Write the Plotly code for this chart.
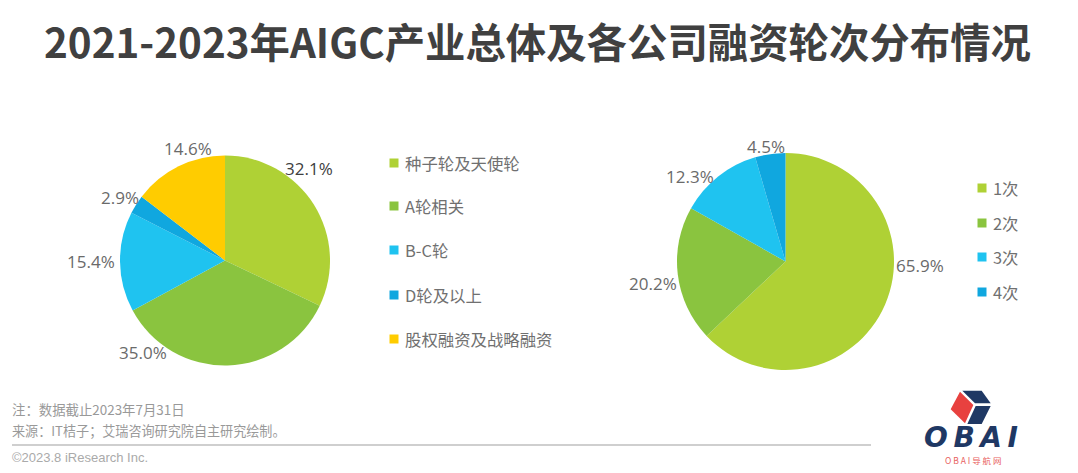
import plotly.graph_objects as go

W, H = 1078, 473

# --- data ---
title = "2021-2023年AIGC产业总体及各公司融资轮次分布情况"
left_categories = ["种子轮及天使轮", "A轮相关", "B-C轮", "D轮及以上", "股权融资及战略融资"]
left_values = [32.1, 35.0, 15.4, 2.9, 14.6]
left_colors = ["#AFD135", "#8AC43F", "#1FC3F0", "#10A7DF", "#FFCC00"]
right_categories = ["1次", "2次", "3次", "4次"]
right_values = [62.9, 20.2, 12.3, 4.5]      # slice sizes as drawn
right_labels = [65.9, 20.2, 12.3, 4.5]      # values as printed
right_colors = ["#AFD135", "#8AC43F", "#1FC3F0", "#10A7DF"]
notes = ["注：数据截止2023年7月31日", "来源：IT桔子；艾瑞咨询研究院自主研究绘制。"]
copyright_text = "©2023.8 iResearch Inc."

# --- layout helpers (pixel coordinates of the frame) ---
def px(x): return x / W
def py(y): return 1 - y / H

def dom(cx, cy, r):
    return dict(x=[px(cx - r), px(cx + r)], y=[py(cy + r), py(cy - r)])

fig = go.Figure()
fig.add_trace(go.Pie(values=left_values, labels=left_categories, sort=False, direction="clockwise",
                     rotation=0, textinfo="none", showlegend=False,
                     marker=dict(colors=left_colors, line=dict(width=0)), domain=dom(225, 260.5, 105)))
fig.add_trace(go.Pie(values=right_values, labels=right_categories, sort=False, direction="clockwise",
                     rotation=0, textinfo="none", showlegend=False,
                     marker=dict(colors=right_colors, line=dict(width=0)), domain=dom(785.5, 261.5, 108.5)))

CJK = "Noto Sans CJK SC"
annotations, shapes = [], []

def text(x, y, s, size, color, anchor="center", family=CJK):
    annotations.append(dict(x=px(x), y=py(y), xref="paper", yref="paper", text=s, showarrow=False,
                            xanchor=anchor, yanchor="middle", align=anchor,
                            font=dict(size=size, color=color, family=family)))

def poly(points, color):
    path = "M" + "L".join(f"{px(a)},{py(b)}" for a, b in points) + "Z"
    shapes.append(dict(type="path", path=path, xref="paper", yref="paper", fillcolor=color, line=dict(width=0)))

text(537, 41, f"<b>{title}</b>", 40.4, "#404040")

# value labels
left_pos = [(309, 168), (143, 352), (91, 261), (120, 197), (188, 148)]
for v, (x, y), c, in zip(left_values, left_pos, ["#404040", "#6A6A6A", "#6A6A6A", "#6A6A6A", "#6A6A6A"]):
    text(x, y, f"{v:.1f}%", 17, c, family="Open Sans")
right_pos = [(920, 265), (653, 283), (690, 176), (766, 147)]
for v, (x, y) in zip(right_labels, right_pos):
    text(x, y, f"{v:.1f}%", 17, "#6A6A6A", family="Open Sans")

# legends
for name, c, y in zip(left_categories, left_colors, [163, 206, 250, 295, 339]):
    poly([(389.5, y - 4.5), (398.5, y - 4.5), (398.5, y + 4.5), (389.5, y + 4.5)], c)
    text(403, y, name, 16.4, "#707070", "left")
for name, c, y in zip(right_categories, right_colors, [188, 223, 257, 292]):
    poly([(977.5, y - 4.5), (986.5, y - 4.5), (986.5, y + 4.5), (977.5, y + 4.5)], c)
    text(991, y, name, 16.4, "#707070", "left")

# footer
text(10, 409, notes[0], 13.4, "#999999", "left")
text(10, 430, notes[1], 13.1, "#999999", "left")
text(10, 457, copyright_text, 13, "#aaaaaa", "left", "Liberation Sans")
shapes.append(dict(type="line", xref="paper", yref="paper", x0=px(12), x1=px(871), y0=py(445), y1=py(445),
                   line=dict(color="#BFBFBF", width=1.5)))

# logo
def lg(points): return [(880 + a / 3, 370 + b / 3) for a, b in points]
poly(lg([(240, 65), (280, 105), (255, 160), (212, 118)]), "#E8413F")
poly(lg([(247, 62), (305, 62), (332, 100), (285, 100)]), "#1F3864")
poly(lg([(287, 108), (332, 108), (305, 162), (262, 162)]), "#1F3864")
text(971, 437, "<b><i>O\u2009B\u2009A\u2009I</i></b>", 28, "#1F3864", family="DejaVu Sans")
text(973, 460, "O B A I 导 航 网", 8.5, "#E8605E")

fig.update_layout(width=W, height=H, margin=dict(l=0, r=0, t=0, b=0), paper_bgcolor="white",
                  plot_bgcolor="white", annotations=annotations, shapes=shapes, showlegend=False)
fig.write_html("out.html", config={"displayModeBar": False},
               post_script="document.body.style.margin='0';")
